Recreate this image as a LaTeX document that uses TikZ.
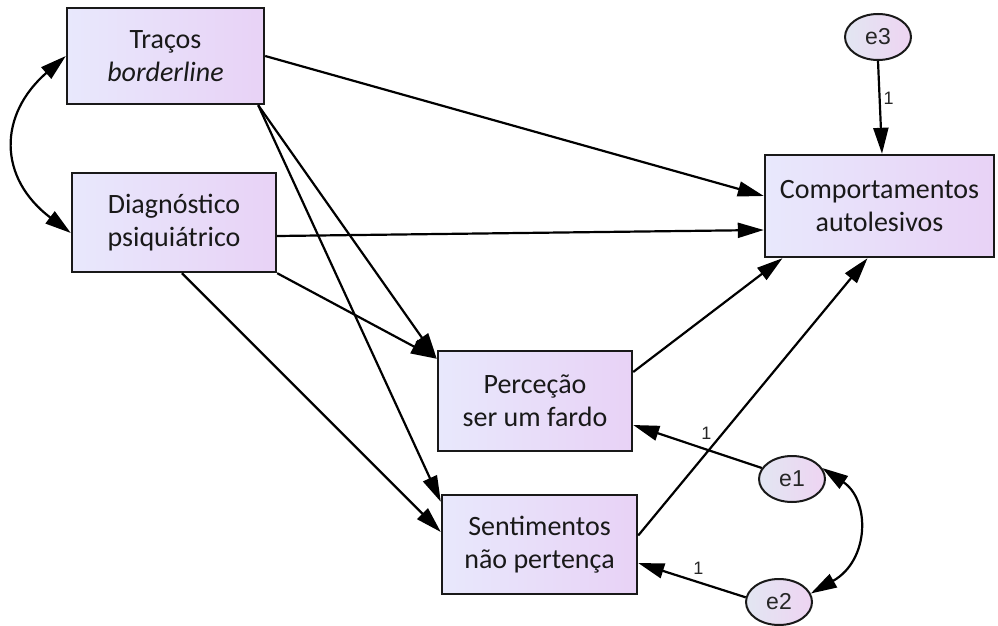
\documentclass[tikz,border=0pt]{standalone}
\usepackage{fontspec}
\setmainfont{Carlito}
\newfontfamily\arialf{Liberation Sans}
\usetikzlibrary{arrows.meta,shapes.geometric,calc}
\definecolor{boxL}{RGB}{232,232,252}
\definecolor{boxR}{RGB}{232,210,246}
\definecolor{ellL}{RGB}{226,230,242}
\definecolor{ellR}{RGB}{238,212,242}
\begin{document}
\begin{tikzpicture}[x=1pt,y=-1pt,
  var/.style={draw=black!90, line width=2.4pt, left color=boxL, right color=boxR,
    inner sep=0pt, align=center, text=black!90, font=\fontsize{28}{33}\selectfont},
  err/.style={ellipse, draw=black!90, line width=2pt, left color=ellL, right color=ellR,
    minimum width=66pt, minimum height=46pt, inner sep=0pt, text=black!85,
    font=\arialf\fontsize{23}{26}\selectfont},
  arr/.style={line width=2.2pt, -{Triangle[length=26pt,width=15pt]}},
  darr/.style={line width=2.2pt, {Triangle[length=26pt,width=15pt]}-{Triangle[length=26pt,width=15pt]}},
  wt/.style={font=\arialf\fontsize{18}{20}\selectfont, inner sep=2pt, text=black!85}
]
\useasboundingbox (0,0) rectangle (998,626);

\node[var, minimum width=197pt, minimum height=96pt] (T) at (165.5,56) {Traços\\\textit{borderline}};
\node[var, minimum width=204pt, minimum height=99pt] (D) at (174,222.5) {Diagnóstico\\psiquiátrico};
\node[var, minimum width=229pt, minimum height=102pt] (C) at (879.5,206) {Comportamentos\\autolesivos};
\node[var, minimum width=194pt, minimum height=100pt] (P) at (535,401) {Perceção\\ser um fardo};
\node[var, minimum width=195pt, minimum height=99pt] (S) at (539.5,544.5) {Sentimentos\\não pertença};

\node[err] (e3) at (878,37) {e3};
\node[err] (e1) at (792,479) {e1};
\node[err] (e2) at (779,602) {e2};

\draw[arr] (T.east) -- ([yshift=10pt]C.west);
\draw[arr] ([yshift=-13.5pt]D.east) -- ([yshift=-24pt]C.west);
\draw[arr] ([yshift=29pt]P.east) -- ([xshift=-97pt]C.south);
\draw[arr] ([yshift=9pt]S.east) -- ([xshift=-12pt]C.south);
\draw[arr] ([xshift=-7pt]T.south east) -- ([yshift=-9pt]P.north west);
\draw[arr] (D.south east) -- ([yshift=-9pt]P.north west);
\draw[arr] ([xshift=-7pt]T.south east) -- ([yshift=-8pt]S.north west);
\draw[arr] ([xshift=8pt]D.south) -- ([yshift=12.5pt]S.west);

\draw[arr] (e3.south) -- node[wt, right=1pt, pos=0.4]{1} ([xshift=2.5pt]C.north);
\draw[arr] (e1.160) -- node[wt, above=7pt, pos=0.43]{1} ([yshift=-24pt]P.east);
\draw[arr] (e2.172) -- node[wt, above=5pt, pos=0.44]{1} ([yshift=-18.5pt]S.east);

\draw[darr] (T.west) .. controls (-2,115) and (-2,178) .. ([yshift=-10.5pt]D.west);
\draw[darr] (e1.20) .. controls (870,500) and (870,560) .. (e2.15);
\end{tikzpicture}
\end{document}
